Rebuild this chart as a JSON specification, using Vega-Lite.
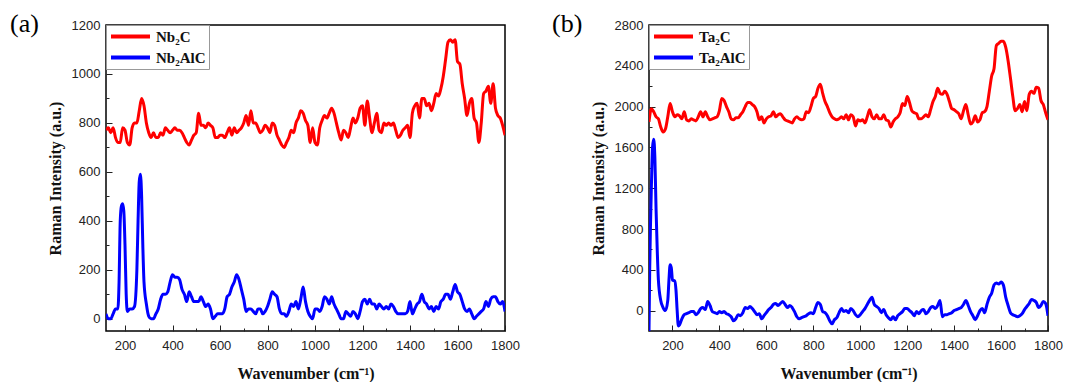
{
  "$schema": "https://vega.github.io/schema/vega-lite/v6.json",
  "background": "white",
  "padding": {"left": 9, "top": 10, "right": 5, "bottom": 0},
  "spacing": 30,
  "config": {
    "view": {"stroke": "black", "strokeWidth": 1.5},
    "axis": {
      "domain": false,
      "grid": false,
      "labelFont": "Liberation Sans",
      "labelFontSize": 13,
      "labelColor": "#222",
      "titleFont": "Liberation Serif",
      "titleFontWeight": "bold",
      "titleFontSize": 16,
      "titleColor": "#111",
      "tickColor": "#222",
      "tickWidth": 1
    },
    "title": {"font": "Liberation Serif", "fontSize": 26, "fontWeight": "normal", "anchor": "start", "frame": "bounds"},
    "legend": {
      "title": null, "orient": "top-left", "offset": 0, "strokeColor": "#999", "fillColor": "white", "padding": 3,
      "labelFont": "Liberation Serif", "labelFontWeight": "bold", "labelFontSize": 15, "labelColor": "#111",
      "symbolType": "M-1,0H5", "symbolStrokeWidth": 4, "symbolSize": 169, "rowPadding": 4, "labelOffset": 30
    }
  },
  "datasets": {
    "a": [
      {"w":120,"i":770,"s":"Nb₂C"},{"w":130,"i":780,"s":"Nb₂C"},{"w":140,"i":760,"s":"Nb₂C"},{"w":150,"i":780,"s":"Nb₂C"},{"w":160,"i":740,"s":"Nb₂C"},{"w":170,"i":720,"s":"Nb₂C"},{"w":180,"i":720,"s":"Nb₂C"},{"w":190,"i":780,"s":"Nb₂C"},{"w":200,"i":770,"s":"Nb₂C"},{"w":210,"i":720,"s":"Nb₂C"},{"w":220,"i":710,"s":"Nb₂C"},{"w":230,"i":780,"s":"Nb₂C"},{"w":240,"i":800,"s":"Nb₂C"},{"w":250,"i":800,"s":"Nb₂C"},{"w":260,"i":850,"s":"Nb₂C"},{"w":270,"i":900,"s":"Nb₂C"},{"w":280,"i":870,"s":"Nb₂C"},{"w":290,"i":800,"s":"Nb₂C"},{"w":300,"i":760,"s":"Nb₂C"},{"w":310,"i":740,"s":"Nb₂C"},{"w":320,"i":760,"s":"Nb₂C"},{"w":330,"i":740,"s":"Nb₂C"},{"w":340,"i":740,"s":"Nb₂C"},{"w":350,"i":760,"s":"Nb₂C"},{"w":360,"i":750,"s":"Nb₂C"},{"w":370,"i":780,"s":"Nb₂C"},{"w":380,"i":770,"s":"Nb₂C"},{"w":390,"i":760,"s":"Nb₂C"},{"w":400,"i":770,"s":"Nb₂C"},{"w":410,"i":780,"s":"Nb₂C"},{"w":420,"i":770,"s":"Nb₂C"},{"w":430,"i":770,"s":"Nb₂C"},{"w":440,"i":760,"s":"Nb₂C"},{"w":450,"i":740,"s":"Nb₂C"},{"w":460,"i":720,"s":"Nb₂C"},{"w":470,"i":710,"s":"Nb₂C"},{"w":480,"i":730,"s":"Nb₂C"},{"w":490,"i":750,"s":"Nb₂C"},{"w":500,"i":760,"s":"Nb₂C"},{"w":510,"i":840,"s":"Nb₂C"},{"w":520,"i":790,"s":"Nb₂C"},{"w":530,"i":790,"s":"Nb₂C"},{"w":540,"i":780,"s":"Nb₂C"},{"w":550,"i":800,"s":"Nb₂C"},{"w":560,"i":790,"s":"Nb₂C"},{"w":570,"i":780,"s":"Nb₂C"},{"w":580,"i":740,"s":"Nb₂C"},{"w":590,"i":740,"s":"Nb₂C"},{"w":600,"i":750,"s":"Nb₂C"},{"w":610,"i":750,"s":"Nb₂C"},{"w":620,"i":740,"s":"Nb₂C"},{"w":630,"i":760,"s":"Nb₂C"},{"w":640,"i":780,"s":"Nb₂C"},{"w":650,"i":750,"s":"Nb₂C"},{"w":660,"i":780,"s":"Nb₂C"},{"w":670,"i":760,"s":"Nb₂C"},{"w":680,"i":770,"s":"Nb₂C"},{"w":690,"i":780,"s":"Nb₂C"},{"w":700,"i":800,"s":"Nb₂C"},{"w":710,"i":830,"s":"Nb₂C"},{"w":720,"i":790,"s":"Nb₂C"},{"w":730,"i":850,"s":"Nb₂C"},{"w":740,"i":800,"s":"Nb₂C"},{"w":750,"i":800,"s":"Nb₂C"},{"w":760,"i":780,"s":"Nb₂C"},{"w":770,"i":760,"s":"Nb₂C"},{"w":780,"i":770,"s":"Nb₂C"},{"w":790,"i":790,"s":"Nb₂C"},{"w":800,"i":780,"s":"Nb₂C"},{"w":810,"i":760,"s":"Nb₂C"},{"w":820,"i":800,"s":"Nb₂C"},{"w":830,"i":790,"s":"Nb₂C"},{"w":840,"i":750,"s":"Nb₂C"},{"w":850,"i":730,"s":"Nb₂C"},{"w":860,"i":710,"s":"Nb₂C"},{"w":870,"i":700,"s":"Nb₂C"},{"w":880,"i":720,"s":"Nb₂C"},{"w":890,"i":740,"s":"Nb₂C"},{"w":900,"i":770,"s":"Nb₂C"},{"w":910,"i":760,"s":"Nb₂C"},{"w":920,"i":800,"s":"Nb₂C"},{"w":930,"i":820,"s":"Nb₂C"},{"w":940,"i":850,"s":"Nb₂C"},{"w":950,"i":840,"s":"Nb₂C"},{"w":960,"i":810,"s":"Nb₂C"},{"w":970,"i":790,"s":"Nb₂C"},{"w":980,"i":720,"s":"Nb₂C"},{"w":990,"i":780,"s":"Nb₂C"},{"w":1000,"i":720,"s":"Nb₂C"},{"w":1010,"i":710,"s":"Nb₂C"},{"w":1020,"i":780,"s":"Nb₂C"},{"w":1030,"i":810,"s":"Nb₂C"},{"w":1040,"i":830,"s":"Nb₂C"},{"w":1050,"i":820,"s":"Nb₂C"},{"w":1060,"i":840,"s":"Nb₂C"},{"w":1070,"i":860,"s":"Nb₂C"},{"w":1080,"i":840,"s":"Nb₂C"},{"w":1090,"i":800,"s":"Nb₂C"},{"w":1100,"i":760,"s":"Nb₂C"},{"w":1110,"i":730,"s":"Nb₂C"},{"w":1120,"i":770,"s":"Nb₂C"},{"w":1130,"i":760,"s":"Nb₂C"},{"w":1140,"i":740,"s":"Nb₂C"},{"w":1150,"i":780,"s":"Nb₂C"},{"w":1160,"i":820,"s":"Nb₂C"},{"w":1170,"i":800,"s":"Nb₂C"},{"w":1180,"i":820,"s":"Nb₂C"},{"w":1190,"i":860,"s":"Nb₂C"},{"w":1200,"i":870,"s":"Nb₂C"},{"w":1210,"i":790,"s":"Nb₂C"},{"w":1220,"i":890,"s":"Nb₂C"},{"w":1230,"i":820,"s":"Nb₂C"},{"w":1240,"i":760,"s":"Nb₂C"},{"w":1250,"i":800,"s":"Nb₂C"},{"w":1260,"i":840,"s":"Nb₂C"},{"w":1270,"i":770,"s":"Nb₂C"},{"w":1280,"i":760,"s":"Nb₂C"},{"w":1290,"i":800,"s":"Nb₂C"},{"w":1300,"i":790,"s":"Nb₂C"},{"w":1310,"i":800,"s":"Nb₂C"},{"w":1320,"i":790,"s":"Nb₂C"},{"w":1330,"i":800,"s":"Nb₂C"},{"w":1340,"i":770,"s":"Nb₂C"},{"w":1350,"i":740,"s":"Nb₂C"},{"w":1360,"i":750,"s":"Nb₂C"},{"w":1370,"i":770,"s":"Nb₂C"},{"w":1380,"i":780,"s":"Nb₂C"},{"w":1390,"i":790,"s":"Nb₂C"},{"w":1400,"i":740,"s":"Nb₂C"},{"w":1410,"i":840,"s":"Nb₂C"},{"w":1420,"i":870,"s":"Nb₂C"},{"w":1430,"i":880,"s":"Nb₂C"},{"w":1440,"i":820,"s":"Nb₂C"},{"w":1450,"i":900,"s":"Nb₂C"},{"w":1460,"i":900,"s":"Nb₂C"},{"w":1470,"i":870,"s":"Nb₂C"},{"w":1480,"i":880,"s":"Nb₂C"},{"w":1490,"i":850,"s":"Nb₂C"},{"w":1500,"i":880,"s":"Nb₂C"},{"w":1510,"i":920,"s":"Nb₂C"},{"w":1520,"i":910,"s":"Nb₂C"},{"w":1530,"i":940,"s":"Nb₂C"},{"w":1540,"i":990,"s":"Nb₂C"},{"w":1550,"i":1060,"s":"Nb₂C"},{"w":1560,"i":1130,"s":"Nb₂C"},{"w":1570,"i":1140,"s":"Nb₂C"},{"w":1580,"i":1130,"s":"Nb₂C"},{"w":1590,"i":1140,"s":"Nb₂C"},{"w":1600,"i":1050,"s":"Nb₂C"},{"w":1610,"i":1040,"s":"Nb₂C"},{"w":1620,"i":960,"s":"Nb₂C"},{"w":1630,"i":900,"s":"Nb₂C"},{"w":1640,"i":830,"s":"Nb₂C"},{"w":1650,"i":880,"s":"Nb₂C"},{"w":1660,"i":900,"s":"Nb₂C"},{"w":1670,"i":820,"s":"Nb₂C"},{"w":1680,"i":800,"s":"Nb₂C"},{"w":1690,"i":720,"s":"Nb₂C"},{"w":1700,"i":800,"s":"Nb₂C"},{"w":1710,"i":920,"s":"Nb₂C"},{"w":1720,"i":930,"s":"Nb₂C"},{"w":1730,"i":950,"s":"Nb₂C"},{"w":1740,"i":880,"s":"Nb₂C"},{"w":1750,"i":960,"s":"Nb₂C"},{"w":1760,"i":860,"s":"Nb₂C"},{"w":1770,"i":830,"s":"Nb₂C"},{"w":1780,"i":820,"s":"Nb₂C"},{"w":1790,"i":790,"s":"Nb₂C"},{"w":1800,"i":750,"s":"Nb₂C"},
      {"w":120,"i":20,"s":"Nb₂AlC"},{"w":130,"i":0,"s":"Nb₂AlC"},{"w":140,"i":0,"s":"Nb₂AlC"},{"w":150,"i":20,"s":"Nb₂AlC"},{"w":160,"i":40,"s":"Nb₂AlC"},{"w":170,"i":40,"s":"Nb₂AlC"},{"w":175,"i":150,"s":"Nb₂AlC"},{"w":180,"i":400,"s":"Nb₂AlC"},{"w":185,"i":460,"s":"Nb₂AlC"},{"w":190,"i":470,"s":"Nb₂AlC"},{"w":195,"i":440,"s":"Nb₂AlC"},{"w":200,"i":300,"s":"Nb₂AlC"},{"w":205,"i":100,"s":"Nb₂AlC"},{"w":210,"i":30,"s":"Nb₂AlC"},{"w":220,"i":40,"s":"Nb₂AlC"},{"w":230,"i":40,"s":"Nb₂AlC"},{"w":240,"i":50,"s":"Nb₂AlC"},{"w":250,"i":200,"s":"Nb₂AlC"},{"w":255,"i":400,"s":"Nb₂AlC"},{"w":260,"i":560,"s":"Nb₂AlC"},{"w":265,"i":590,"s":"Nb₂AlC"},{"w":270,"i":500,"s":"Nb₂AlC"},{"w":275,"i":300,"s":"Nb₂AlC"},{"w":280,"i":150,"s":"Nb₂AlC"},{"w":290,"i":60,"s":"Nb₂AlC"},{"w":300,"i":10,"s":"Nb₂AlC"},{"w":310,"i":0,"s":"Nb₂AlC"},{"w":320,"i":0,"s":"Nb₂AlC"},{"w":330,"i":20,"s":"Nb₂AlC"},{"w":340,"i":40,"s":"Nb₂AlC"},{"w":350,"i":80,"s":"Nb₂AlC"},{"w":360,"i":100,"s":"Nb₂AlC"},{"w":370,"i":100,"s":"Nb₂AlC"},{"w":380,"i":110,"s":"Nb₂AlC"},{"w":390,"i":150,"s":"Nb₂AlC"},{"w":400,"i":180,"s":"Nb₂AlC"},{"w":410,"i":170,"s":"Nb₂AlC"},{"w":420,"i":170,"s":"Nb₂AlC"},{"w":430,"i":160,"s":"Nb₂AlC"},{"w":440,"i":120,"s":"Nb₂AlC"},{"w":450,"i":100,"s":"Nb₂AlC"},{"w":460,"i":70,"s":"Nb₂AlC"},{"w":470,"i":110,"s":"Nb₂AlC"},{"w":480,"i":90,"s":"Nb₂AlC"},{"w":490,"i":70,"s":"Nb₂AlC"},{"w":500,"i":70,"s":"Nb₂AlC"},{"w":510,"i":70,"s":"Nb₂AlC"},{"w":520,"i":90,"s":"Nb₂AlC"},{"w":530,"i":70,"s":"Nb₂AlC"},{"w":540,"i":50,"s":"Nb₂AlC"},{"w":550,"i":60,"s":"Nb₂AlC"},{"w":560,"i":40,"s":"Nb₂AlC"},{"w":570,"i":0,"s":"Nb₂AlC"},{"w":580,"i":10,"s":"Nb₂AlC"},{"w":590,"i":20,"s":"Nb₂AlC"},{"w":600,"i":20,"s":"Nb₂AlC"},{"w":610,"i":20,"s":"Nb₂AlC"},{"w":620,"i":40,"s":"Nb₂AlC"},{"w":630,"i":90,"s":"Nb₂AlC"},{"w":640,"i":100,"s":"Nb₂AlC"},{"w":650,"i":130,"s":"Nb₂AlC"},{"w":660,"i":150,"s":"Nb₂AlC"},{"w":670,"i":180,"s":"Nb₂AlC"},{"w":680,"i":160,"s":"Nb₂AlC"},{"w":690,"i":120,"s":"Nb₂AlC"},{"w":700,"i":80,"s":"Nb₂AlC"},{"w":710,"i":30,"s":"Nb₂AlC"},{"w":720,"i":40,"s":"Nb₂AlC"},{"w":730,"i":40,"s":"Nb₂AlC"},{"w":740,"i":30,"s":"Nb₂AlC"},{"w":750,"i":20,"s":"Nb₂AlC"},{"w":760,"i":40,"s":"Nb₂AlC"},{"w":770,"i":40,"s":"Nb₂AlC"},{"w":780,"i":20,"s":"Nb₂AlC"},{"w":790,"i":30,"s":"Nb₂AlC"},{"w":800,"i":50,"s":"Nb₂AlC"},{"w":810,"i":80,"s":"Nb₂AlC"},{"w":820,"i":110,"s":"Nb₂AlC"},{"w":830,"i":100,"s":"Nb₂AlC"},{"w":840,"i":90,"s":"Nb₂AlC"},{"w":850,"i":40,"s":"Nb₂AlC"},{"w":860,"i":20,"s":"Nb₂AlC"},{"w":870,"i":20,"s":"Nb₂AlC"},{"w":880,"i":10,"s":"Nb₂AlC"},{"w":890,"i":30,"s":"Nb₂AlC"},{"w":900,"i":60,"s":"Nb₂AlC"},{"w":910,"i":50,"s":"Nb₂AlC"},{"w":920,"i":70,"s":"Nb₂AlC"},{"w":930,"i":40,"s":"Nb₂AlC"},{"w":940,"i":80,"s":"Nb₂AlC"},{"w":950,"i":130,"s":"Nb₂AlC"},{"w":960,"i":70,"s":"Nb₂AlC"},{"w":970,"i":30,"s":"Nb₂AlC"},{"w":980,"i":10,"s":"Nb₂AlC"},{"w":990,"i":0,"s":"Nb₂AlC"},{"w":1000,"i":40,"s":"Nb₂AlC"},{"w":1010,"i":40,"s":"Nb₂AlC"},{"w":1020,"i":30,"s":"Nb₂AlC"},{"w":1030,"i":50,"s":"Nb₂AlC"},{"w":1040,"i":90,"s":"Nb₂AlC"},{"w":1050,"i":80,"s":"Nb₂AlC"},{"w":1060,"i":60,"s":"Nb₂AlC"},{"w":1070,"i":90,"s":"Nb₂AlC"},{"w":1080,"i":60,"s":"Nb₂AlC"},{"w":1090,"i":40,"s":"Nb₂AlC"},{"w":1100,"i":20,"s":"Nb₂AlC"},{"w":1110,"i":0,"s":"Nb₂AlC"},{"w":1120,"i":0,"s":"Nb₂AlC"},{"w":1130,"i":30,"s":"Nb₂AlC"},{"w":1140,"i":20,"s":"Nb₂AlC"},{"w":1150,"i":10,"s":"Nb₂AlC"},{"w":1160,"i":30,"s":"Nb₂AlC"},{"w":1170,"i":20,"s":"Nb₂AlC"},{"w":1180,"i":0,"s":"Nb₂AlC"},{"w":1190,"i":30,"s":"Nb₂AlC"},{"w":1200,"i":70,"s":"Nb₂AlC"},{"w":1210,"i":80,"s":"Nb₂AlC"},{"w":1220,"i":60,"s":"Nb₂AlC"},{"w":1230,"i":80,"s":"Nb₂AlC"},{"w":1240,"i":60,"s":"Nb₂AlC"},{"w":1250,"i":60,"s":"Nb₂AlC"},{"w":1260,"i":40,"s":"Nb₂AlC"},{"w":1270,"i":60,"s":"Nb₂AlC"},{"w":1280,"i":50,"s":"Nb₂AlC"},{"w":1290,"i":40,"s":"Nb₂AlC"},{"w":1300,"i":50,"s":"Nb₂AlC"},{"w":1310,"i":40,"s":"Nb₂AlC"},{"w":1320,"i":60,"s":"Nb₂AlC"},{"w":1330,"i":50,"s":"Nb₂AlC"},{"w":1340,"i":30,"s":"Nb₂AlC"},{"w":1350,"i":20,"s":"Nb₂AlC"},{"w":1360,"i":20,"s":"Nb₂AlC"},{"w":1370,"i":20,"s":"Nb₂AlC"},{"w":1380,"i":20,"s":"Nb₂AlC"},{"w":1390,"i":30,"s":"Nb₂AlC"},{"w":1400,"i":70,"s":"Nb₂AlC"},{"w":1410,"i":20,"s":"Nb₂AlC"},{"w":1420,"i":40,"s":"Nb₂AlC"},{"w":1430,"i":60,"s":"Nb₂AlC"},{"w":1440,"i":70,"s":"Nb₂AlC"},{"w":1450,"i":100,"s":"Nb₂AlC"},{"w":1460,"i":70,"s":"Nb₂AlC"},{"w":1470,"i":60,"s":"Nb₂AlC"},{"w":1480,"i":40,"s":"Nb₂AlC"},{"w":1490,"i":50,"s":"Nb₂AlC"},{"w":1500,"i":30,"s":"Nb₂AlC"},{"w":1510,"i":50,"s":"Nb₂AlC"},{"w":1520,"i":40,"s":"Nb₂AlC"},{"w":1530,"i":70,"s":"Nb₂AlC"},{"w":1540,"i":80,"s":"Nb₂AlC"},{"w":1550,"i":100,"s":"Nb₂AlC"},{"w":1560,"i":100,"s":"Nb₂AlC"},{"w":1570,"i":80,"s":"Nb₂AlC"},{"w":1580,"i":110,"s":"Nb₂AlC"},{"w":1590,"i":140,"s":"Nb₂AlC"},{"w":1600,"i":110,"s":"Nb₂AlC"},{"w":1610,"i":100,"s":"Nb₂AlC"},{"w":1620,"i":70,"s":"Nb₂AlC"},{"w":1630,"i":40,"s":"Nb₂AlC"},{"w":1640,"i":30,"s":"Nb₂AlC"},{"w":1650,"i":40,"s":"Nb₂AlC"},{"w":1660,"i":20,"s":"Nb₂AlC"},{"w":1670,"i":0,"s":"Nb₂AlC"},{"w":1680,"i":10,"s":"Nb₂AlC"},{"w":1690,"i":20,"s":"Nb₂AlC"},{"w":1700,"i":30,"s":"Nb₂AlC"},{"w":1710,"i":40,"s":"Nb₂AlC"},{"w":1720,"i":70,"s":"Nb₂AlC"},{"w":1730,"i":50,"s":"Nb₂AlC"},{"w":1740,"i":80,"s":"Nb₂AlC"},{"w":1750,"i":90,"s":"Nb₂AlC"},{"w":1760,"i":90,"s":"Nb₂AlC"},{"w":1770,"i":70,"s":"Nb₂AlC"},{"w":1780,"i":60,"s":"Nb₂AlC"},{"w":1790,"i":70,"s":"Nb₂AlC"},{"w":1800,"i":30,"s":"Nb₂AlC"}
    ],
    "b": [
      {"w":100,"i":1850,"s":"Ta₂C"},{"w":110,"i":1980,"s":"Ta₂C"},{"w":120,"i":1950,"s":"Ta₂C"},{"w":130,"i":1900,"s":"Ta₂C"},{"w":140,"i":1880,"s":"Ta₂C"},{"w":150,"i":1800,"s":"Ta₂C"},{"w":160,"i":1750,"s":"Ta₂C"},{"w":170,"i":1780,"s":"Ta₂C"},{"w":180,"i":1900,"s":"Ta₂C"},{"w":190,"i":2030,"s":"Ta₂C"},{"w":200,"i":1950,"s":"Ta₂C"},{"w":210,"i":1900,"s":"Ta₂C"},{"w":220,"i":1920,"s":"Ta₂C"},{"w":230,"i":1910,"s":"Ta₂C"},{"w":240,"i":1880,"s":"Ta₂C"},{"w":250,"i":1950,"s":"Ta₂C"},{"w":260,"i":1870,"s":"Ta₂C"},{"w":270,"i":1860,"s":"Ta₂C"},{"w":280,"i":1880,"s":"Ta₂C"},{"w":290,"i":1870,"s":"Ta₂C"},{"w":300,"i":1860,"s":"Ta₂C"},{"w":310,"i":1900,"s":"Ta₂C"},{"w":320,"i":1950,"s":"Ta₂C"},{"w":330,"i":1900,"s":"Ta₂C"},{"w":340,"i":1950,"s":"Ta₂C"},{"w":350,"i":1900,"s":"Ta₂C"},{"w":360,"i":1870,"s":"Ta₂C"},{"w":370,"i":1880,"s":"Ta₂C"},{"w":380,"i":1890,"s":"Ta₂C"},{"w":390,"i":1900,"s":"Ta₂C"},{"w":400,"i":1960,"s":"Ta₂C"},{"w":410,"i":2080,"s":"Ta₂C"},{"w":420,"i":2060,"s":"Ta₂C"},{"w":430,"i":2000,"s":"Ta₂C"},{"w":440,"i":1950,"s":"Ta₂C"},{"w":450,"i":1880,"s":"Ta₂C"},{"w":460,"i":1870,"s":"Ta₂C"},{"w":470,"i":1890,"s":"Ta₂C"},{"w":480,"i":1890,"s":"Ta₂C"},{"w":490,"i":1920,"s":"Ta₂C"},{"w":500,"i":1950,"s":"Ta₂C"},{"w":510,"i":2000,"s":"Ta₂C"},{"w":520,"i":2040,"s":"Ta₂C"},{"w":530,"i":2040,"s":"Ta₂C"},{"w":540,"i":2020,"s":"Ta₂C"},{"w":550,"i":2000,"s":"Ta₂C"},{"w":560,"i":1950,"s":"Ta₂C"},{"w":570,"i":1870,"s":"Ta₂C"},{"w":580,"i":1900,"s":"Ta₂C"},{"w":590,"i":1840,"s":"Ta₂C"},{"w":600,"i":1880,"s":"Ta₂C"},{"w":610,"i":1900,"s":"Ta₂C"},{"w":620,"i":1910,"s":"Ta₂C"},{"w":630,"i":1950,"s":"Ta₂C"},{"w":640,"i":1900,"s":"Ta₂C"},{"w":650,"i":1920,"s":"Ta₂C"},{"w":660,"i":1930,"s":"Ta₂C"},{"w":670,"i":1900,"s":"Ta₂C"},{"w":680,"i":1870,"s":"Ta₂C"},{"w":690,"i":1860,"s":"Ta₂C"},{"w":700,"i":1850,"s":"Ta₂C"},{"w":710,"i":1840,"s":"Ta₂C"},{"w":720,"i":1880,"s":"Ta₂C"},{"w":730,"i":1900,"s":"Ta₂C"},{"w":740,"i":1880,"s":"Ta₂C"},{"w":750,"i":1870,"s":"Ta₂C"},{"w":760,"i":1880,"s":"Ta₂C"},{"w":770,"i":1950,"s":"Ta₂C"},{"w":780,"i":1940,"s":"Ta₂C"},{"w":790,"i":2000,"s":"Ta₂C"},{"w":800,"i":2080,"s":"Ta₂C"},{"w":810,"i":2100,"s":"Ta₂C"},{"w":820,"i":2180,"s":"Ta₂C"},{"w":830,"i":2220,"s":"Ta₂C"},{"w":840,"i":2130,"s":"Ta₂C"},{"w":850,"i":2050,"s":"Ta₂C"},{"w":860,"i":2000,"s":"Ta₂C"},{"w":870,"i":1940,"s":"Ta₂C"},{"w":880,"i":1900,"s":"Ta₂C"},{"w":890,"i":1880,"s":"Ta₂C"},{"w":900,"i":1870,"s":"Ta₂C"},{"w":910,"i":1880,"s":"Ta₂C"},{"w":920,"i":1900,"s":"Ta₂C"},{"w":930,"i":1880,"s":"Ta₂C"},{"w":940,"i":1920,"s":"Ta₂C"},{"w":950,"i":1870,"s":"Ta₂C"},{"w":960,"i":1920,"s":"Ta₂C"},{"w":970,"i":1900,"s":"Ta₂C"},{"w":980,"i":1810,"s":"Ta₂C"},{"w":990,"i":1870,"s":"Ta₂C"},{"w":1000,"i":1860,"s":"Ta₂C"},{"w":1010,"i":1870,"s":"Ta₂C"},{"w":1020,"i":1840,"s":"Ta₂C"},{"w":1030,"i":1900,"s":"Ta₂C"},{"w":1040,"i":1970,"s":"Ta₂C"},{"w":1050,"i":1900,"s":"Ta₂C"},{"w":1060,"i":1880,"s":"Ta₂C"},{"w":1070,"i":1920,"s":"Ta₂C"},{"w":1080,"i":1880,"s":"Ta₂C"},{"w":1090,"i":1880,"s":"Ta₂C"},{"w":1100,"i":1920,"s":"Ta₂C"},{"w":1110,"i":1870,"s":"Ta₂C"},{"w":1120,"i":1860,"s":"Ta₂C"},{"w":1130,"i":1800,"s":"Ta₂C"},{"w":1140,"i":1850,"s":"Ta₂C"},{"w":1150,"i":1880,"s":"Ta₂C"},{"w":1160,"i":1900,"s":"Ta₂C"},{"w":1170,"i":1940,"s":"Ta₂C"},{"w":1180,"i":2030,"s":"Ta₂C"},{"w":1190,"i":2010,"s":"Ta₂C"},{"w":1200,"i":2100,"s":"Ta₂C"},{"w":1210,"i":2040,"s":"Ta₂C"},{"w":1220,"i":1960,"s":"Ta₂C"},{"w":1230,"i":1940,"s":"Ta₂C"},{"w":1240,"i":1930,"s":"Ta₂C"},{"w":1250,"i":1880,"s":"Ta₂C"},{"w":1260,"i":1880,"s":"Ta₂C"},{"w":1270,"i":1900,"s":"Ta₂C"},{"w":1280,"i":1920,"s":"Ta₂C"},{"w":1290,"i":1900,"s":"Ta₂C"},{"w":1300,"i":1970,"s":"Ta₂C"},{"w":1310,"i":2050,"s":"Ta₂C"},{"w":1320,"i":2100,"s":"Ta₂C"},{"w":1330,"i":2180,"s":"Ta₂C"},{"w":1340,"i":2130,"s":"Ta₂C"},{"w":1350,"i":2120,"s":"Ta₂C"},{"w":1360,"i":2150,"s":"Ta₂C"},{"w":1370,"i":2120,"s":"Ta₂C"},{"w":1380,"i":2050,"s":"Ta₂C"},{"w":1390,"i":1980,"s":"Ta₂C"},{"w":1400,"i":1970,"s":"Ta₂C"},{"w":1410,"i":1950,"s":"Ta₂C"},{"w":1420,"i":1930,"s":"Ta₂C"},{"w":1430,"i":1880,"s":"Ta₂C"},{"w":1440,"i":1960,"s":"Ta₂C"},{"w":1450,"i":2020,"s":"Ta₂C"},{"w":1460,"i":1920,"s":"Ta₂C"},{"w":1470,"i":1830,"s":"Ta₂C"},{"w":1480,"i":1850,"s":"Ta₂C"},{"w":1490,"i":1910,"s":"Ta₂C"},{"w":1500,"i":1850,"s":"Ta₂C"},{"w":1510,"i":1870,"s":"Ta₂C"},{"w":1520,"i":1940,"s":"Ta₂C"},{"w":1530,"i":1950,"s":"Ta₂C"},{"w":1540,"i":2000,"s":"Ta₂C"},{"w":1550,"i":2150,"s":"Ta₂C"},{"w":1560,"i":2300,"s":"Ta₂C"},{"w":1570,"i":2370,"s":"Ta₂C"},{"w":1580,"i":2600,"s":"Ta₂C"},{"w":1590,"i":2620,"s":"Ta₂C"},{"w":1600,"i":2640,"s":"Ta₂C"},{"w":1610,"i":2640,"s":"Ta₂C"},{"w":1620,"i":2580,"s":"Ta₂C"},{"w":1630,"i":2450,"s":"Ta₂C"},{"w":1640,"i":2280,"s":"Ta₂C"},{"w":1650,"i":2100,"s":"Ta₂C"},{"w":1660,"i":1960,"s":"Ta₂C"},{"w":1670,"i":1980,"s":"Ta₂C"},{"w":1680,"i":2020,"s":"Ta₂C"},{"w":1690,"i":1950,"s":"Ta₂C"},{"w":1700,"i":2050,"s":"Ta₂C"},{"w":1710,"i":1960,"s":"Ta₂C"},{"w":1720,"i":2120,"s":"Ta₂C"},{"w":1730,"i":2150,"s":"Ta₂C"},{"w":1740,"i":2130,"s":"Ta₂C"},{"w":1750,"i":2190,"s":"Ta₂C"},{"w":1760,"i":2180,"s":"Ta₂C"},{"w":1770,"i":2060,"s":"Ta₂C"},{"w":1780,"i":2020,"s":"Ta₂C"},{"w":1790,"i":1940,"s":"Ta₂C"},{"w":1800,"i":1870,"s":"Ta₂C"},
      {"w":100,"i":-200,"s":"Ta₂AlC"},{"w":103,"i":400,"s":"Ta₂AlC"},{"w":106,"i":800,"s":"Ta₂AlC"},{"w":110,"i":1200,"s":"Ta₂AlC"},{"w":115,"i":1600,"s":"Ta₂AlC"},{"w":120,"i":1680,"s":"Ta₂AlC"},{"w":125,"i":1500,"s":"Ta₂AlC"},{"w":130,"i":1000,"s":"Ta₂AlC"},{"w":135,"i":600,"s":"Ta₂AlC"},{"w":140,"i":300,"s":"Ta₂AlC"},{"w":150,"i":100,"s":"Ta₂AlC"},{"w":160,"i":30,"s":"Ta₂AlC"},{"w":170,"i":0,"s":"Ta₂AlC"},{"w":180,"i":100,"s":"Ta₂AlC"},{"w":185,"i":300,"s":"Ta₂AlC"},{"w":190,"i":450,"s":"Ta₂AlC"},{"w":195,"i":420,"s":"Ta₂AlC"},{"w":200,"i":300,"s":"Ta₂AlC"},{"w":210,"i":290,"s":"Ta₂AlC"},{"w":215,"i":200,"s":"Ta₂AlC"},{"w":220,"i":0,"s":"Ta₂AlC"},{"w":225,"i":-150,"s":"Ta₂AlC"},{"w":230,"i":-140,"s":"Ta₂AlC"},{"w":240,"i":-80,"s":"Ta₂AlC"},{"w":250,"i":-40,"s":"Ta₂AlC"},{"w":260,"i":-30,"s":"Ta₂AlC"},{"w":270,"i":-20,"s":"Ta₂AlC"},{"w":280,"i":-10,"s":"Ta₂AlC"},{"w":290,"i":-10,"s":"Ta₂AlC"},{"w":300,"i":-40,"s":"Ta₂AlC"},{"w":310,"i":-20,"s":"Ta₂AlC"},{"w":320,"i":20,"s":"Ta₂AlC"},{"w":330,"i":30,"s":"Ta₂AlC"},{"w":340,"i":10,"s":"Ta₂AlC"},{"w":350,"i":90,"s":"Ta₂AlC"},{"w":360,"i":50,"s":"Ta₂AlC"},{"w":370,"i":-10,"s":"Ta₂AlC"},{"w":380,"i":-20,"s":"Ta₂AlC"},{"w":390,"i":-30,"s":"Ta₂AlC"},{"w":400,"i":-10,"s":"Ta₂AlC"},{"w":410,"i":-20,"s":"Ta₂AlC"},{"w":420,"i":-10,"s":"Ta₂AlC"},{"w":430,"i":-30,"s":"Ta₂AlC"},{"w":440,"i":-40,"s":"Ta₂AlC"},{"w":450,"i":-60,"s":"Ta₂AlC"},{"w":460,"i":-100,"s":"Ta₂AlC"},{"w":470,"i":-80,"s":"Ta₂AlC"},{"w":480,"i":-40,"s":"Ta₂AlC"},{"w":490,"i":-50,"s":"Ta₂AlC"},{"w":500,"i":-20,"s":"Ta₂AlC"},{"w":510,"i":30,"s":"Ta₂AlC"},{"w":520,"i":20,"s":"Ta₂AlC"},{"w":530,"i":40,"s":"Ta₂AlC"},{"w":540,"i":20,"s":"Ta₂AlC"},{"w":550,"i":-10,"s":"Ta₂AlC"},{"w":560,"i":-40,"s":"Ta₂AlC"},{"w":570,"i":-30,"s":"Ta₂AlC"},{"w":580,"i":-80,"s":"Ta₂AlC"},{"w":590,"i":-50,"s":"Ta₂AlC"},{"w":600,"i":-20,"s":"Ta₂AlC"},{"w":610,"i":10,"s":"Ta₂AlC"},{"w":620,"i":30,"s":"Ta₂AlC"},{"w":630,"i":60,"s":"Ta₂AlC"},{"w":640,"i":70,"s":"Ta₂AlC"},{"w":650,"i":50,"s":"Ta₂AlC"},{"w":660,"i":70,"s":"Ta₂AlC"},{"w":670,"i":90,"s":"Ta₂AlC"},{"w":680,"i":60,"s":"Ta₂AlC"},{"w":690,"i":30,"s":"Ta₂AlC"},{"w":700,"i":50,"s":"Ta₂AlC"},{"w":710,"i":30,"s":"Ta₂AlC"},{"w":720,"i":-10,"s":"Ta₂AlC"},{"w":730,"i":-60,"s":"Ta₂AlC"},{"w":740,"i":-80,"s":"Ta₂AlC"},{"w":750,"i":-70,"s":"Ta₂AlC"},{"w":760,"i":-60,"s":"Ta₂AlC"},{"w":770,"i":-50,"s":"Ta₂AlC"},{"w":780,"i":-30,"s":"Ta₂AlC"},{"w":790,"i":-20,"s":"Ta₂AlC"},{"w":800,"i":-30,"s":"Ta₂AlC"},{"w":810,"i":30,"s":"Ta₂AlC"},{"w":820,"i":80,"s":"Ta₂AlC"},{"w":830,"i":60,"s":"Ta₂AlC"},{"w":840,"i":-10,"s":"Ta₂AlC"},{"w":850,"i":-20,"s":"Ta₂AlC"},{"w":860,"i":-50,"s":"Ta₂AlC"},{"w":870,"i":-100,"s":"Ta₂AlC"},{"w":880,"i":-130,"s":"Ta₂AlC"},{"w":890,"i":-90,"s":"Ta₂AlC"},{"w":900,"i":-70,"s":"Ta₂AlC"},{"w":910,"i":-20,"s":"Ta₂AlC"},{"w":920,"i":20,"s":"Ta₂AlC"},{"w":930,"i":-10,"s":"Ta₂AlC"},{"w":940,"i":0,"s":"Ta₂AlC"},{"w":950,"i":-20,"s":"Ta₂AlC"},{"w":960,"i":20,"s":"Ta₂AlC"},{"w":970,"i":0,"s":"Ta₂AlC"},{"w":980,"i":-40,"s":"Ta₂AlC"},{"w":990,"i":-60,"s":"Ta₂AlC"},{"w":1000,"i":-40,"s":"Ta₂AlC"},{"w":1010,"i":-10,"s":"Ta₂AlC"},{"w":1020,"i":20,"s":"Ta₂AlC"},{"w":1030,"i":60,"s":"Ta₂AlC"},{"w":1040,"i":100,"s":"Ta₂AlC"},{"w":1050,"i":130,"s":"Ta₂AlC"},{"w":1060,"i":60,"s":"Ta₂AlC"},{"w":1070,"i":40,"s":"Ta₂AlC"},{"w":1080,"i":20,"s":"Ta₂AlC"},{"w":1090,"i":-20,"s":"Ta₂AlC"},{"w":1100,"i":10,"s":"Ta₂AlC"},{"w":1110,"i":-40,"s":"Ta₂AlC"},{"w":1120,"i":-70,"s":"Ta₂AlC"},{"w":1130,"i":-90,"s":"Ta₂AlC"},{"w":1140,"i":-60,"s":"Ta₂AlC"},{"w":1150,"i":-90,"s":"Ta₂AlC"},{"w":1160,"i":-50,"s":"Ta₂AlC"},{"w":1170,"i":-30,"s":"Ta₂AlC"},{"w":1180,"i":-10,"s":"Ta₂AlC"},{"w":1190,"i":20,"s":"Ta₂AlC"},{"w":1200,"i":20,"s":"Ta₂AlC"},{"w":1210,"i":0,"s":"Ta₂AlC"},{"w":1220,"i":-20,"s":"Ta₂AlC"},{"w":1230,"i":-50,"s":"Ta₂AlC"},{"w":1240,"i":-10,"s":"Ta₂AlC"},{"w":1250,"i":-30,"s":"Ta₂AlC"},{"w":1260,"i":0,"s":"Ta₂AlC"},{"w":1270,"i":10,"s":"Ta₂AlC"},{"w":1280,"i":-30,"s":"Ta₂AlC"},{"w":1290,"i":-10,"s":"Ta₂AlC"},{"w":1300,"i":30,"s":"Ta₂AlC"},{"w":1310,"i":40,"s":"Ta₂AlC"},{"w":1320,"i":20,"s":"Ta₂AlC"},{"w":1330,"i":50,"s":"Ta₂AlC"},{"w":1340,"i":100,"s":"Ta₂AlC"},{"w":1350,"i":-60,"s":"Ta₂AlC"},{"w":1360,"i":-40,"s":"Ta₂AlC"},{"w":1370,"i":-40,"s":"Ta₂AlC"},{"w":1380,"i":-30,"s":"Ta₂AlC"},{"w":1390,"i":-20,"s":"Ta₂AlC"},{"w":1400,"i":0,"s":"Ta₂AlC"},{"w":1410,"i":10,"s":"Ta₂AlC"},{"w":1420,"i":20,"s":"Ta₂AlC"},{"w":1430,"i":30,"s":"Ta₂AlC"},{"w":1440,"i":60,"s":"Ta₂AlC"},{"w":1450,"i":100,"s":"Ta₂AlC"},{"w":1460,"i":50,"s":"Ta₂AlC"},{"w":1470,"i":-10,"s":"Ta₂AlC"},{"w":1480,"i":-50,"s":"Ta₂AlC"},{"w":1490,"i":-90,"s":"Ta₂AlC"},{"w":1500,"i":-50,"s":"Ta₂AlC"},{"w":1510,"i":0,"s":"Ta₂AlC"},{"w":1520,"i":20,"s":"Ta₂AlC"},{"w":1530,"i":-20,"s":"Ta₂AlC"},{"w":1540,"i":60,"s":"Ta₂AlC"},{"w":1550,"i":130,"s":"Ta₂AlC"},{"w":1560,"i":170,"s":"Ta₂AlC"},{"w":1570,"i":250,"s":"Ta₂AlC"},{"w":1580,"i":270,"s":"Ta₂AlC"},{"w":1590,"i":260,"s":"Ta₂AlC"},{"w":1600,"i":280,"s":"Ta₂AlC"},{"w":1610,"i":250,"s":"Ta₂AlC"},{"w":1620,"i":130,"s":"Ta₂AlC"},{"w":1630,"i":50,"s":"Ta₂AlC"},{"w":1640,"i":-20,"s":"Ta₂AlC"},{"w":1650,"i":-40,"s":"Ta₂AlC"},{"w":1660,"i":-50,"s":"Ta₂AlC"},{"w":1670,"i":-60,"s":"Ta₂AlC"},{"w":1680,"i":-50,"s":"Ta₂AlC"},{"w":1690,"i":-30,"s":"Ta₂AlC"},{"w":1700,"i":10,"s":"Ta₂AlC"},{"w":1710,"i":40,"s":"Ta₂AlC"},{"w":1720,"i":70,"s":"Ta₂AlC"},{"w":1730,"i":110,"s":"Ta₂AlC"},{"w":1740,"i":100,"s":"Ta₂AlC"},{"w":1750,"i":80,"s":"Ta₂AlC"},{"w":1760,"i":30,"s":"Ta₂AlC"},{"w":1770,"i":50,"s":"Ta₂AlC"},{"w":1780,"i":90,"s":"Ta₂AlC"},{"w":1790,"i":70,"s":"Ta₂AlC"},{"w":1800,"i":-50,"s":"Ta₂AlC"}
    ]
  },
  "resolve": {"scale": {"color": "independent"}, "legend": {"color": "independent"}},
  "hconcat": [
    {
      "title": {"text": "(a)", "dx": -37, "dy": 18, "offset": 0},
      "width": 399,
      "height": 306,
      "data": {"name": "a"},
      "mark": {"type": "line", "strokeWidth": 3, "clip": true, "interpolate": "monotone"},
      "encoding": {
        "x": {"field": "w", "type": "quantitative", "scale": {"domain": [120, 1800], "nice": false, "zero": false},
          "axis": {"title": "Wavenumber (cm⁻¹)", "values": [200,300,400,500,600,700,800,900,1000,1100,1200,1300,1400,1500,1600,1700,1800],
            "labelExpr": "datum.value % 200 === 0 ? datum.label : ''", "format": "d",
            "tickSize": {"condition": {"test": "datum.value % 200 === 0", "value": -6}, "value": -3},
            "labelPadding": 14, "titlePadding": 13, "labelFlush": false}},
        "y": {"field": "i", "type": "quantitative", "scale": {"domain": [-50, 1200], "nice": false, "zero": false},
          "axis": {"title": "Raman Intensity (a.u.)", "values": [0,100,200,300,400,500,600,700,800,900,1000,1100,1200],
            "labelExpr": "datum.value % 200 === 0 ? datum.label : ''", "format": "d",
            "tickSize": {"condition": {"test": "datum.value % 200 === 0", "value": -6}, "value": -3},
            "labelPadding": 12, "titlePadding": 8}},
        "color": {"field": "s", "type": "nominal", "sort": null,
          "scale": {"domain": ["Nb₂C", "Nb₂AlC"], "range": ["#ff0000", "#0000ff"]},
          "legend": {}}
      }
    },
    {
      "title": {"text": "(b)", "dx": -38, "dy": 18, "offset": 0},
      "width": 399,
      "height": 306,
      "data": {"name": "b"},
      "mark": {"type": "line", "strokeWidth": 3, "clip": true, "interpolate": "monotone"},
      "encoding": {
        "x": {"field": "w", "type": "quantitative", "scale": {"domain": [100, 1800], "nice": false, "zero": false},
          "axis": {"title": "Wavenumber (cm⁻¹)", "values": [200,300,400,500,600,700,800,900,1000,1100,1200,1300,1400,1500,1600,1700,1800],
            "labelExpr": "datum.value % 200 === 0 ? datum.label : ''", "format": "d",
            "tickSize": {"condition": {"test": "datum.value % 200 === 0", "value": -6}, "value": -3},
            "labelPadding": 14, "titlePadding": 13, "labelFlush": false}},
        "y": {"field": "i", "type": "quantitative", "scale": {"domain": [-200, 2800], "nice": false, "zero": false},
          "axis": {"title": "Raman Intensity (a.u.)", "values": [0,200,400,600,800,1000,1200,1400,1600,1800,2000,2200,2400,2600,2800],
            "labelExpr": "datum.value % 400 === 0 ? datum.label : ''", "format": "d",
            "tickSize": {"condition": {"test": "datum.value % 400 === 0", "value": -6}, "value": -3},
            "labelPadding": 12, "titlePadding": 8}},
        "color": {"field": "s", "type": "nominal", "sort": null,
          "scale": {"domain": ["Ta₂C", "Ta₂AlC"], "range": ["#ff0000", "#0000ff"]},
          "legend": {}}
      }
    }
  ]
}
